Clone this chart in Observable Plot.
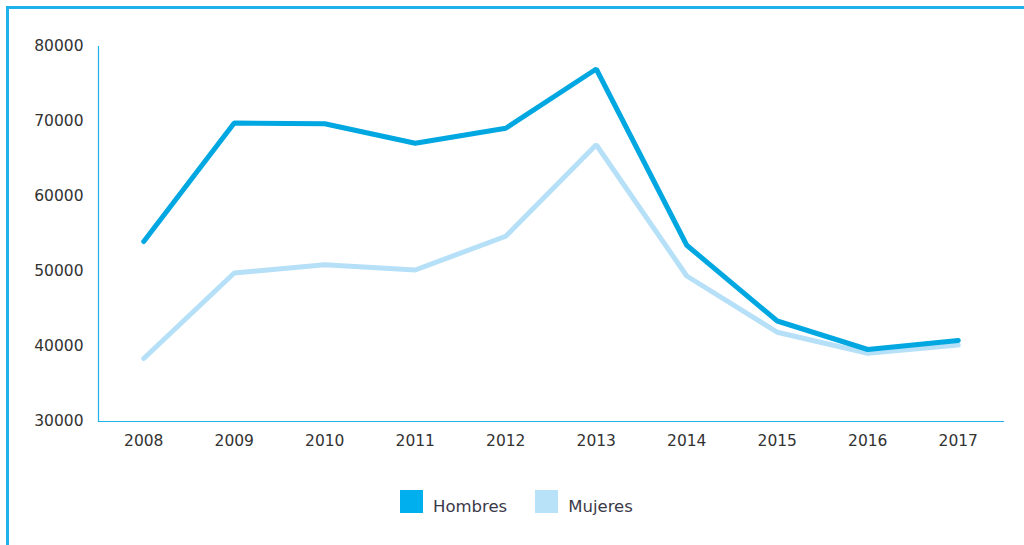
<!DOCTYPE html>
<html>
<head>
<meta charset="utf-8">
<script src="https://cdn.jsdelivr.net/npm/d3@7"></script>
<script src="https://cdn.jsdelivr.net/npm/@observablehq/plot@0.6"></script>
<style>
  html, body { margin: 0; padding: 0; background: #fff; }
  body { width: 1024px; height: 545px; overflow: hidden; position: relative; font-family: "DejaVu Sans", sans-serif; }
  #frame { position: absolute; left: 6px; top: 6px; width: 1030px; height: 560px;
           border-top: 3px solid #1db3ea; border-left: 3px solid #1db3ea; box-sizing: border-box; }
  #chart { position: absolute; left: 0; top: 0; }
  #legend { position: absolute; left: 400px; top: 490px; display: flex; align-items: flex-end;
            font-size: 16.5px; color: #3a3a48; }
  .item { display: flex; align-items: flex-end; margin-right: 28px; }
  .sw { width: 23px; height: 23px; margin-right: 10px; }
  .lab { line-height: 16px; position: relative; top: 2px; }
</style>
</head>
<body>
<div id="frame"></div>
<div id="chart"></div>
<div id="legend"></div>
<script>
const years = ["2008","2009","2010","2011","2012","2013","2014","2015","2016","2017"];
const hombres = [54000, 69800, 69700, 67100, 69100, 77000, 53500, 43400, 39600, 40800];
const mujeres = [38400, 49800, 50900, 50200, 54700, 66900, 49400, 41900, 39100, 40200];
const yTicks = [30000, 40000, 50000, 60000, 70000, 80000];
const seriesNames = ["Hombres", "Mujeres"];
const seriesColors = ["#00a7e1", "#b5e0f7"];
const legendColors = ["#00b0ee", "#b7e2f8"];

const rows = [];
years.forEach((y, i) => {
  rows.push({year: y, value: hombres[i], serie: seriesNames[0]});
  rows.push({year: y, value: mujeres[i], serie: seriesNames[1]});
});

const axisColor = "#1db3ea";

const plot = Plot.plot({
  width: 1024,
  height: 470,
  marginLeft: 98,
  marginRight: 21,
  marginTop: 46,
  marginBottom: 49,
  style: {fontFamily: "DejaVu Sans, sans-serif", fontSize: "15.5px", color: "#333", background: "transparent"},
  x: {type: "point", domain: years, padding: 0.5, round: false, label: null},
  y: {domain: [30000, 80000], label: null},
  color: {domain: seriesNames, range: seriesColors},
  marks: [
    Plot.frame({anchor: "left", stroke: axisColor, strokeWidth: 1.2}),
    Plot.frame({anchor: "bottom", stroke: axisColor, strokeWidth: 1.2}),
    Plot.axisY({ticks: yTicks, tickSize: 0, tickPadding: 15, tickFormat: d => String(d), fill: "#333"}),
    Plot.axisX({tickSize: 0, tickPadding: 13, fill: "#333"}),
    Plot.line(rows.filter(d => d.serie === "Mujeres"), {x: "year", y: "value", stroke: "serie", strokeWidth: 5, strokeLinejoin: "miter", strokeLinecap: "round"}),
    Plot.line(rows.filter(d => d.serie === "Hombres"), {x: "year", y: "value", stroke: "serie", strokeWidth: 5, strokeLinejoin: "miter", strokeLinecap: "round"})
  ]
});
document.getElementById("chart").appendChild(plot);

const legend = document.getElementById("legend");
seriesNames.forEach((n, i) => {
  const it = document.createElement("div");
  it.className = "item";
  const sw = document.createElement("div");
  sw.className = "sw";
  sw.style.background = legendColors[i];
  const lab = document.createElement("span");
  lab.className = "lab";
  lab.textContent = n;
  it.appendChild(sw); it.appendChild(lab);
  legend.appendChild(it);
});
</script>
</body>
</html>
